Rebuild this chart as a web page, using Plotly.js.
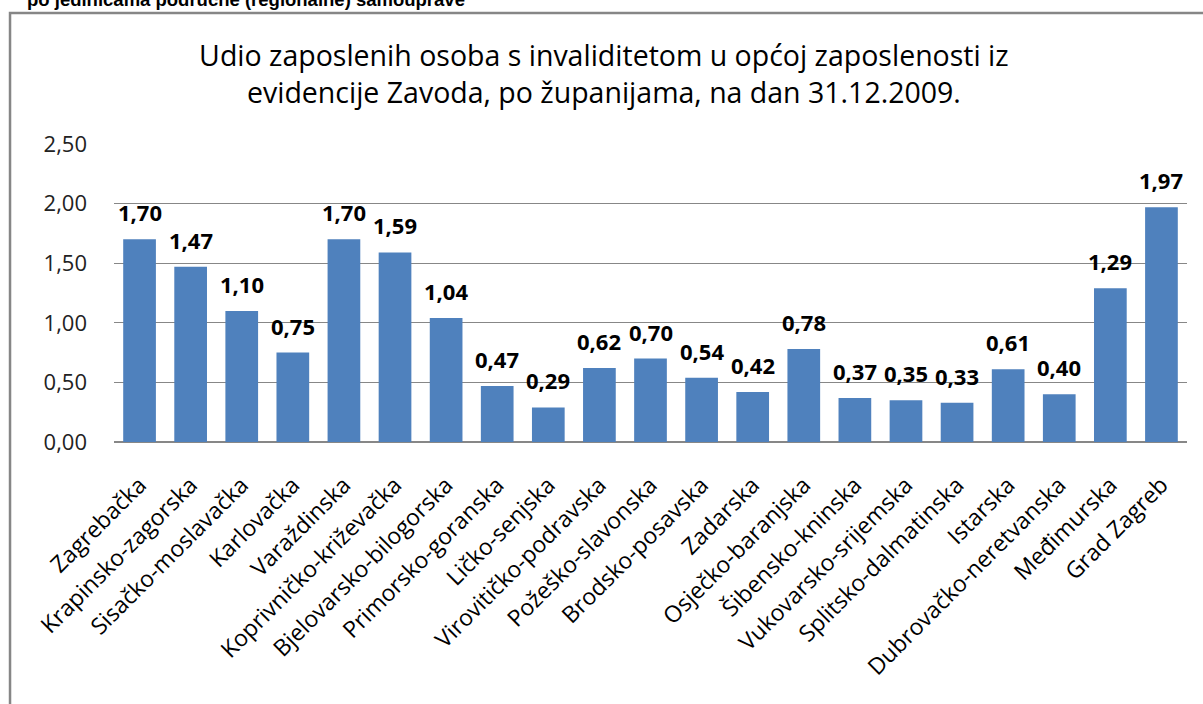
<!DOCTYPE html>
<html>
<head>
<meta charset="utf-8">
<script src="https://cdn.plot.ly/plotly-3.0.1.min.js"></script>
<style>html,body{margin:0;padding:0;background:#fff;}#chart{width:1203px;height:704px;}</style>
</head>
<body>
<div id="chart"></div>
<script>
const categories = ["Zagrebačka","Krapinsko-zagorska","Sisačko-moslavačka","Karlovačka","Varaždinska","Koprivničko-križevačka","Bjelovarsko-bilogorska","Primorsko-goranska","Ličko-senjska","Virovitičko-podravska","Požeško-slavonska","Brodsko-posavska","Zadarska","Osječko-baranjska","Šibensko-kninska","Vukovarsko-srijemska","Splitsko-dalmatinska","Istarska","Dubrovačko-neretvanska","Međimurska","Grad Zagreb"];
const values = [1.70,1.47,1.10,0.75,1.70,1.59,1.04,0.47,0.29,0.62,0.70,0.54,0.42,0.78,0.37,0.35,0.33,0.61,0.40,1.29,1.97];
const titleText = "Udio zaposlenih osoba s invaliditetom u općoj zaposlenosti iz<br>evidencije Zavoda, po županijama, na dan 31.12.2009.";
const headerText = "po jedinicama područne (regionalne) samouprave";

const fmt = v => v.toFixed(2).replace('.', ',');
const FONT = '"Open Sans", sans-serif';

const trace = {
  type: 'bar',
  x: categories,
  y: values,
  marker: {color: '#4F81BD'},
  hoverinfo: 'x+y'
};

const labelAnn = categories.map((c, i) => ({
  x: c, y: values[i], xref: 'x', yref: 'y',
  text: fmt(values[i]), showarrow: false, yshift: 27,
  font: {family: FONT, size: 22, color: '#000', weight: 'bold'}
}));

const layout = {
  width: 1203, height: 704,
  margin: {l: 114, r: 16, t: 144, b: 262},
  paper_bgcolor: '#fff', plot_bgcolor: '#fff',
  separators: ',.',
  showlegend: false,
  bargap: 0.36,
  title: {
    text: titleText,
    x: 0.502, xanchor: 'center', xref: 'container',
    y: 1 - 66 / 704, yanchor: 'middle', yref: 'container',
    font: {family: FONT, size: 28.5, color: '#000'}
  },
  xaxis: {
    type: 'category',
    tickangle: -45,
    tickfont: {family: FONT, size: 23, color: '#000'},
    showgrid: false, zeroline: false,
    showline: false, ticks: '', ticklabelstandoff: 24, ticklabelshift: 0
  },
  yaxis: {
    range: [0, 2.5],
    dtick: 0.5, tick0: 0,
    tickformat: '.2f',
    tickfont: {family: FONT, size: 22, color: '#222'},
    showgrid: true, gridcolor: '#878787', gridwidth: 1.3,
    zeroline: true, zerolinecolor: '#878787', zerolinewidth: 1.3,
    showline: false, ticks: '', ticklabelstandoff: 26
  },
  shapes: [{
    type: 'rect', xref: 'paper', yref: 'paper',
    x0: -0.0969, x1: 1.2, y0: -1.2, y1: 1.4396,
    line: {color: '#868686', width: 2.5}, fillcolor: 'rgba(0,0,0,0)', layer: 'below'
  }],
  annotations: labelAnn.concat([{
    xref: 'paper', yref: 'paper', x: (25 - 114) / 1073, xanchor: 'left',
    y: (442 + 1) / 298, yanchor: 'middle',
    text: headerText, showarrow: false,
    font: {family: 'Liberation Sans, Arial, sans-serif', size: 18.5, color: '#000', weight: 'bold'}
  }])
};

Plotly.newPlot('chart', [trace], layout, {displayModeBar: false, staticPlot: true});
</script>
</body>
</html>
